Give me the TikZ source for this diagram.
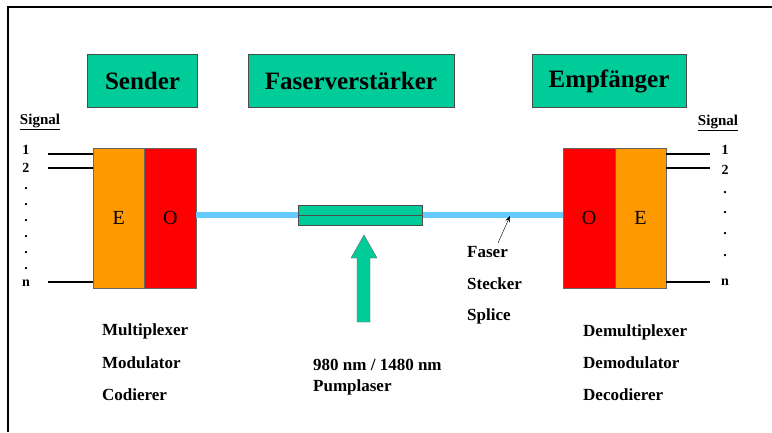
\documentclass[tikz,border=0pt]{standalone}
\usepackage{fontspec}
\setmainfont{Liberation Serif}
\usetikzlibrary{arrows.meta}
\definecolor{tealbox}{RGB}{0,204,153}
\definecolor{orng}{RGB}{255,153,0}
\definecolor{redd}{RGB}{255,0,0}
\definecolor{fiber}{RGB}{102,204,255}
\begin{document}
\begin{tikzpicture}[x=1pt,y=-1pt,
 hdr/.style={draw=black!70, fill=tealbox, minimum height=53pt, font=\fontsize{25}{28}\selectfont\bfseries, inner sep=0pt},
 eo/.style={draw=black!60, minimum width=51.5pt, minimum height=140pt, font=\fontsize{20}{22}\selectfont, inner sep=0pt},
 lbl/.style={font=\fontsize{17}{19}\selectfont\bfseries, anchor=west, inner sep=0pt},
 sig/.style={font=\fontsize{14}{16}\selectfont\bfseries, inner sep=0pt},
 sigt/.style={font=\fontsize{15}{17}\selectfont\bfseries, inner sep=0pt},
 wire/.style={line width=2pt},
]
\useasboundingbox (0,0) rectangle (772,432);
% frame
\draw[line width=2pt] (772,7) -- (8,7) -- (8,432);

% headers
\node[hdr, minimum width=110pt] (sender) at (142.5,81) {Sender};
\node[hdr, minimum width=206pt] (amph) at (351,81) {Faserverstärker};
\node[hdr, minimum width=154pt] (empf) at (609,81) {Empfänger};

% E/O blocks
\node[eo, fill=orng] (lE) at (118.75,218) {E};
\node[eo, fill=redd] (lO) at (170.25,218) {O};
\node[eo, fill=redd] (rO) at (589,218) {O};
\node[eo, fill=orng] (rE) at (640.5,218) {E};

% fiber
\draw[fiber, line width=6pt] ([yshift=3pt]lO.east) -- ([yshift=3pt]rO.west);

% amplifier
\node[draw=black!70, fill=tealbox, minimum width=124pt, minimum height=20pt, inner sep=0pt] (amp) at (360,215) {};
\draw[black!70, line width=1pt] (amp.west) -- (amp.east);

% pump arrow
\draw[black!60, fill=tealbox] (357,322) -- (357,258) -- (351,258) -- (364,235) -- (377,258) -- (370,258) -- (370,322) -- cycle;

% pointer arrow
\coordinate (ptS) at (498,243);
\coordinate (ptT) at (510,216);
\draw[-{Stealth[length=6pt,width=5pt]}] (ptS) -- (ptT);

% signal labels left
\node[sigt] (sigL) at (40,122) {\underline{Signal}};
\node[sig] (l1) at (26,150) {1};
\node[sig] (l2) at (26,168) {2};
\foreach \yy [count=\i] in {189,205,221,237,253,269} \node[sig] (ld\i) at (26,\yy) {.};
\node[sig] (ln) at (26,283) {n};
\coordinate (a1) at (48,154);
\coordinate (a2) at (48,168);
\coordinate (an) at (48,282);
\draw[wire] (a1) -- (a1 -| lE.west);
\draw[wire] (a2) -- (a2 -| lE.west);
\draw[wire] (an) -- (an -| lE.west);

% signal labels right
\node[sigt] (sigR) at (718,123) {\underline{Signal}};
\node[sig] (r1) at (725,150) {1};
\node[sig] (r2) at (725,170) {2};
\foreach \yy [count=\i] in {193,213,234,256} \node[sig] (rd\i) at (725,\yy) {.};
\node[sig] (rn) at (725,282) {n};
\coordinate (b1) at (710,154);
\coordinate (b2) at (710,168);
\coordinate (bn) at (710,282);
\draw[wire] (b1) -- (b1 -| rE.east);
\draw[wire] (b2) -- (b2 -| rE.east);
\draw[wire] (bn) -- (bn -| rE.east);

% fiber labels
\node[lbl] (faser) at (467,252) {Faser};
\node[lbl] (stecker) at (467,284) {Stecker};
\node[lbl] (splice) at (467,316) {Splice};

% bottom labels
\node[lbl] (mux) at (102,331) {Multiplexer};
\node[lbl] (mod) at (102,363) {Modulator};
\node[lbl] (cod) at (102,395) {Codierer};
\node[lbl] (nm) at (313,365) {980 nm / 1480 nm};
\node[lbl] (pump) at (313,387) {Pumplaser};
\node[lbl] (dmux) at (583,332) {Demultiplexer};
\node[lbl] (dmod) at (583,363) {Demodulator};
\node[lbl] (dcod) at (583,395) {Decodierer};
\end{tikzpicture}
\end{document}
